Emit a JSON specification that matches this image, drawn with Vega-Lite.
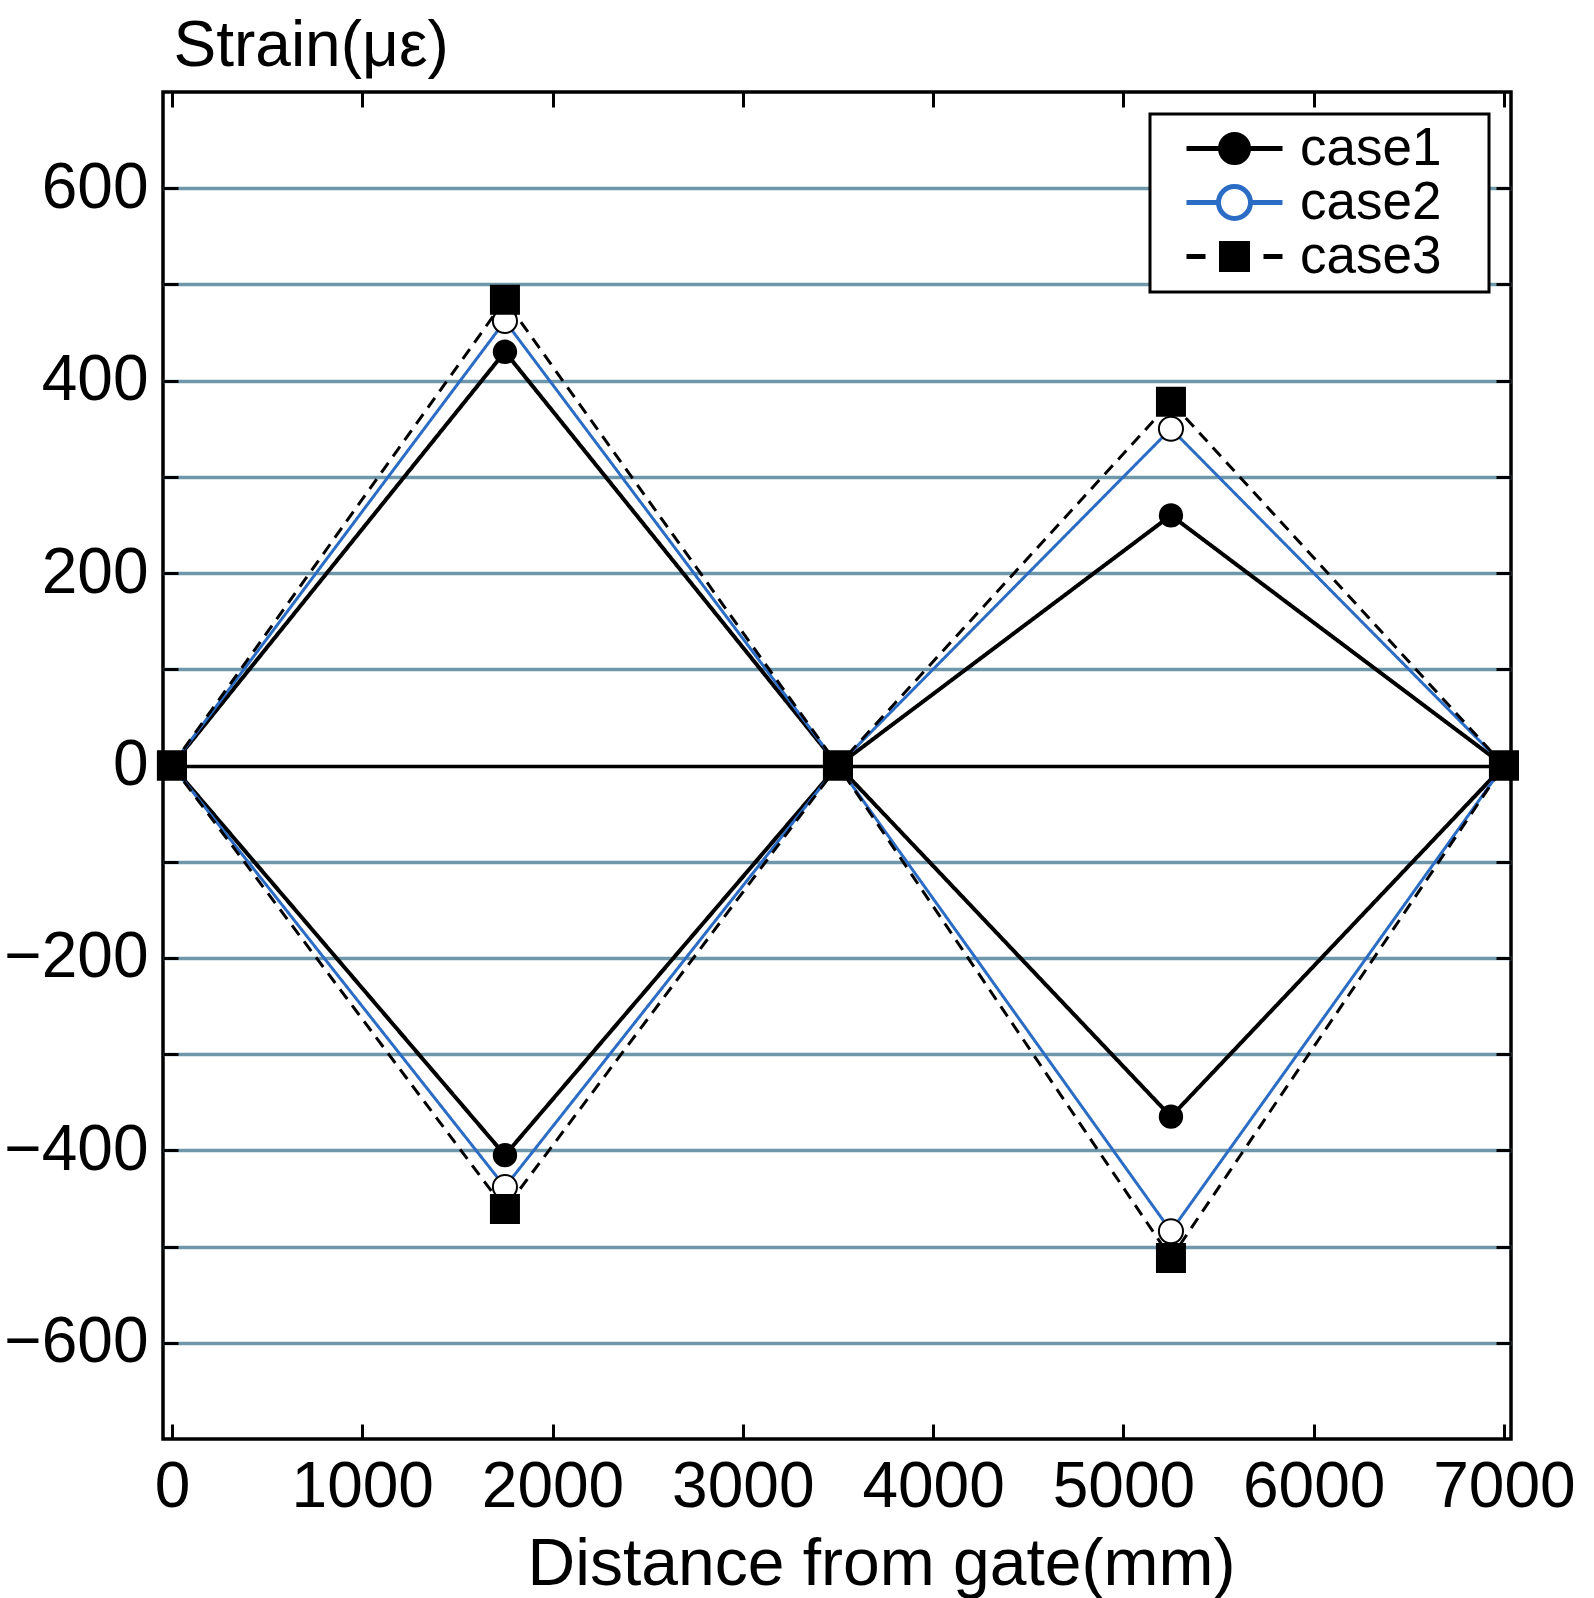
{
  "$schema": "https://vega.github.io/schema/vega-lite/v6.json",
  "width": 1348,
  "height": 1347,
  "autosize": {"type": "none"},
  "padding": {"left": 163, "top": 92, "right": 83, "bottom": 159},
  "background": "white",
  "config": {
    "view": {"stroke": "black", "strokeWidth": 3.5},
    "font": "Liberation Sans"
  },
  "data": {
    "values": [
      {"x": 0, "y": 0, "case": "case1", "branch": "up"},
      {"x": 1750, "y": 430, "case": "case1", "branch": "up"},
      {"x": 3500, "y": 0, "case": "case1", "branch": "up"},
      {"x": 5250, "y": 260, "case": "case1", "branch": "up"},
      {"x": 7000, "y": 0, "case": "case1", "branch": "up"},
      {"x": 0, "y": 0, "case": "case1", "branch": "down"},
      {"x": 1750, "y": -405, "case": "case1", "branch": "down"},
      {"x": 3500, "y": 0, "case": "case1", "branch": "down"},
      {"x": 5250, "y": -365, "case": "case1", "branch": "down"},
      {"x": 7000, "y": 0, "case": "case1", "branch": "down"},
      {"x": 0, "y": 0, "case": "case2", "branch": "up"},
      {"x": 1750, "y": 462, "case": "case2", "branch": "up"},
      {"x": 3500, "y": 0, "case": "case2", "branch": "up"},
      {"x": 5250, "y": 350, "case": "case2", "branch": "up"},
      {"x": 7000, "y": 0, "case": "case2", "branch": "up"},
      {"x": 0, "y": 0, "case": "case2", "branch": "down"},
      {"x": 1750, "y": -438, "case": "case2", "branch": "down"},
      {"x": 3500, "y": 0, "case": "case2", "branch": "down"},
      {"x": 5250, "y": -484, "case": "case2", "branch": "down"},
      {"x": 7000, "y": 0, "case": "case2", "branch": "down"},
      {"x": 0, "y": 0, "case": "case3", "branch": "up"},
      {"x": 1750, "y": 484, "case": "case3", "branch": "up"},
      {"x": 3500, "y": 0, "case": "case3", "branch": "up"},
      {"x": 5250, "y": 378, "case": "case3", "branch": "up"},
      {"x": 7000, "y": 0, "case": "case3", "branch": "up"},
      {"x": 0, "y": 0, "case": "case3", "branch": "down"},
      {"x": 1750, "y": -461, "case": "case3", "branch": "down"},
      {"x": 3500, "y": 0, "case": "case3", "branch": "down"},
      {"x": 5250, "y": -512, "case": "case3", "branch": "down"},
      {"x": 7000, "y": 0, "case": "case3", "branch": "down"}
    ]
  },
  "layer": [
    {
      "mark": {"type": "line"},
      "encoding": {
        "x": {
          "field": "x", "type": "quantitative",
          "scale": {"domain": [-47, 7037], "nice": false, "zero": false},
          "axis": {
            "orient": "bottom",
            "values": [0, 1000, 2000, 3000, 4000, 5000, 6000, 7000],
            "format": "d",
            "title": "Distance from gate(mm)",
            "grid": false, "domain": false,
            "tickSize": -15, "tickWidth": 3, "tickColor": "black",
            "labelFont": "Liberation Sans", "labelFontSize": 64, "labelColor": "black",
            "labelPadding": 82, "labelBaseline": "alphabetic",
            "labelFlush": false, "labelOverlap": false,
            "titleFont": "Liberation Sans", "titleFontSize": 66, "titleFontWeight": "normal", "titleColor": "black",
            "titleX": 718, "titleY": 145, "titleBaseline": "alphabetic", "titleAlign": "center"
          }
        },
        "y": {
          "field": "y", "type": "quantitative",
          "scale": {"domain": [-700, 700], "nice": false, "zero": false},
          "axis": {
            "orient": "left",
            "values": [-600, -500, -400, -300, -200, -100, 0, 100, 200, 300, 400, 500, 600],
            "labelExpr": "datum.value % 200 === 0 ? datum.label : ''",
            "grid": true,
            "gridColor": {"condition": {"test": "datum.value === 0", "value": "black"}, "value": "#6f97aa"},
            "gridWidth": 3.5,
            "domain": false,
            "tickSize": -15, "tickWidth": 3, "tickColor": "black",
            "labelFont": "Liberation Sans", "labelFontSize": 64, "labelColor": "black",
            "labelPadding": 30,
            "title": "Strain(με)",
            "titleFont": "Liberation Sans", "titleFontSize": 64, "titleFontWeight": "normal", "titleColor": "black",
            "titleAngle": 0, "titleAlign": "left", "titleBaseline": "alphabetic",
            "titleX": 10, "titleY": -27
          }
        },
        "detail": [{"field": "case"}, {"field": "branch"}],
        "color": {"condition": {"test": "datum['case'] === 'case2'", "value": "#2b6cc4"}, "value": "black"},
        "strokeDash": {"condition": {"test": "datum['case'] === 'case3'", "value": [12, 8]}, "value": [1, 0]},
        "strokeWidth": {"condition": {"test": "datum['case'] === 'case1'", "value": 4}, "value": 3}
      }
    },
    {
      "mark": {"type": "point", "filled": true, "stroke": "black", "strokeWidth": 2, "opacity": 1},
      "encoding": {
        "x": {
          "field": "x", "type": "quantitative",
          "axis": {
            "orient": "top",
            "values": [0, 1000, 2000, 3000, 4000, 5000, 6000, 7000],
            "labels": false, "title": null, "grid": false, "domain": false,
            "tickSize": -15, "tickWidth": 3, "tickColor": "black"
          }
        },
        "y": {
          "field": "y", "type": "quantitative",
          "axis": {
            "orient": "right",
            "values": [-600, -500, -400, -300, -200, -100, 0, 100, 200, 300, 400, 500, 600],
            "labels": false, "title": null, "grid": false, "domain": false,
            "tickSize": -15, "tickWidth": 3, "tickColor": "black"
          }
        },
        "shape": {"condition": {"test": "datum['case'] === 'case3'", "value": "square"}, "value": "circle"},
        "size": {"condition": [{"test": "datum['case'] === 'case3'", "value": 784}, {"test": "datum['case'] === 'case2'", "value": 580}], "value": 500},
        "fill": {
          "field": "case", "type": "nominal",
          "scale": {"domain": ["case1", "case2", "case3"], "range": ["black", "white", "black"]},
          "legend": {
            "title": null,
            "orient": "top-right",
            "offset": 22,
            "padding": 8,
            "rowPadding": -5,
            "strokeColor": "black",
            "fillColor": "white",
            "labelFont": "Liberation Sans",
            "labelFontSize": 53,
            "labelColor": "black",
            "labelLimit": 500,
            "labelExpr": "datum.label + '\u2800'",
            "symbolSize": 1600,
            "symbolOffset": 50,
            "labelOffset": 39,
            "encoding": {
              "legend": {"strokeWidth": {"value": 3}},
              "symbols": {
                "shape": {"value": {"expr": "datum.value === 'case1' ? 'M-2.4,0H2.4M0.7,0A0.7,0.7,0,1,1,-0.7,0A0.7,0.7,0,1,1,0.7,0Z' : datum.value === 'case2' ? 'M-2.4,0H-0.8M0.8,0H2.4M0.8,0A0.8,0.8,0,1,1,-0.8,0A0.8,0.8,0,1,1,0.8,0Z' : 'M-2.4,0H-1.45M1.45,0H2.4M-0.65,-0.65H0.65V0.65H-0.65Z'"}},
                "stroke": {"value": {"expr": "datum.value === 'case2' ? '#2b6cc4' : 'black'"}},
                "strokeWidth": {"value": 5},
                "size": {"value": 1600},
                "opacity": {"value": 1}
              }
            }
          }
        }
      }
    }
  ]
}
